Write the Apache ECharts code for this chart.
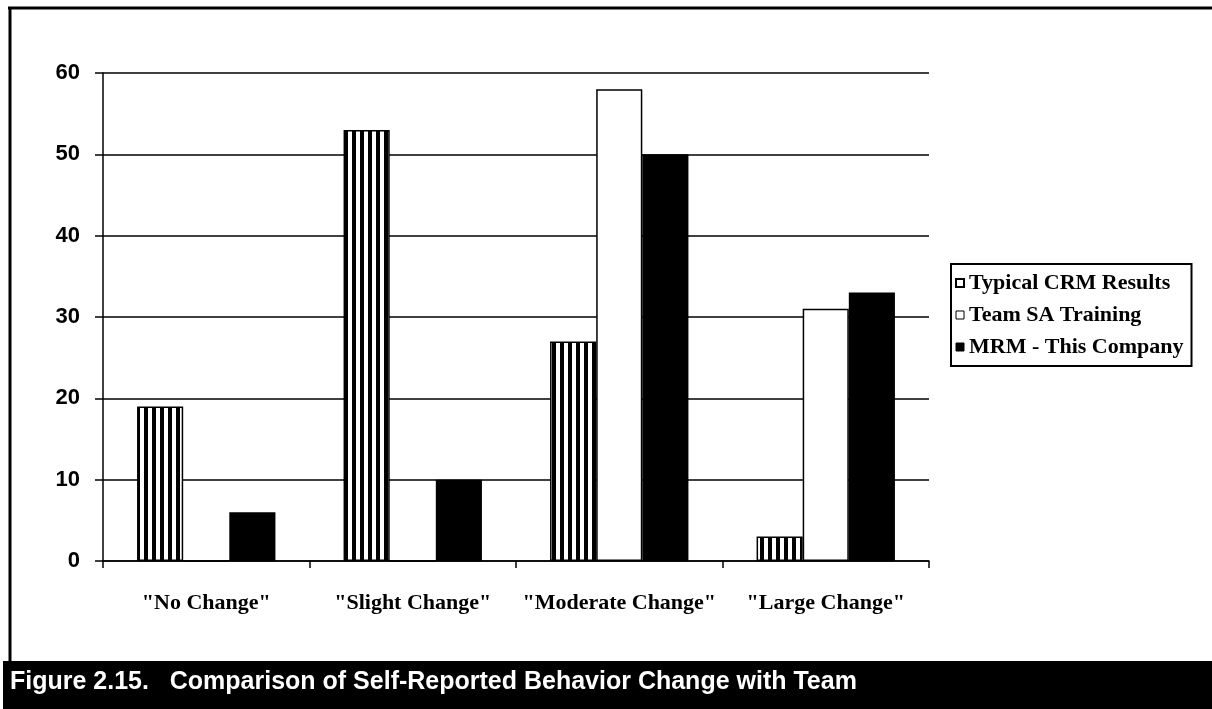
<!DOCTYPE html>
<html>
<head>
<meta charset="utf-8">
<title>Figure 2.15</title>
<script src="https://cdn.jsdelivr.net/npm/echarts@6/dist/echarts.min.js"></script>
<style>
  html, body { margin: 0; padding: 0; background: #fff; }
  #chart { width: 1212px; height: 709px; }
</style>
</head>
<body>
<div id="chart"></div>
<script>
// Response categories on the x axis
const categories = ['"No Change"', '"Slight Change"', '"Moderate Change"', '"Large Change"'];

// Percent of respondents per category, one array per program
const typicalCRM = [19, 53, 27, 3];
const teamSA = [0, 0, 58, 31];
const mrmCompany = [6, 10, 50, 33];

const seriesNames = ['Typical CRM Results', 'Team SA Training', 'MRM - This Company'];

// Value axis ticks
const yMin = 0, yMax = 60, yStep = 10;

const caption = 'Figure 2.15.   Comparison of Self-Reported Behavior Change with Team';

// Vertical stripe fill for the "typical" bars
function stripePattern() {
  const c = document.createElement('canvas');
  c.width = 8; c.height = 8;
  const ctx = c.getContext('2d');
  ctx.fillStyle = '#fff';
  ctx.fillRect(0, 0, 8, 8);
  ctx.fillStyle = '#000';
  ctx.fillRect(0, 0, 4, 8);
  return c;
}

const serif = '"Liberation Serif", "Times New Roman", serif';
const sans = '"Liberation Sans", Arial, sans-serif';

const chart = echarts.init(document.getElementById('chart'), null, { renderer: 'canvas' });

const barBase = { type: 'bar', barGap: '0%', barCategoryGap: '33%', animation: false };

chart.setOption({
  backgroundColor: '#fff',
  animation: false,
  grid: { left: 103, right: 283, top: 73, bottom: 148 },
  legend: {
    orient: 'vertical',
    left: 951,
    top: 264,
    padding: [8, 8, 8, 4],
    itemGap: 10,
    itemWidth: 8,
    itemHeight: 8,
    icon: 'rect',
    borderColor: '#000',
    borderWidth: 2,
    textStyle: { fontFamily: serif, fontWeight: 'bold', fontSize: 22, color: '#000' },
    data: [
      { name: seriesNames[0], itemStyle: { color: '#fff', borderColor: '#000', borderWidth: 2 } },
      { name: seriesNames[1], itemStyle: { color: '#fff', borderColor: '#000', borderWidth: 1 } },
      { name: seriesNames[2], itemStyle: { color: '#000', borderColor: '#000', borderWidth: 1 } }
    ]
  },
  xAxis: {
    type: 'category',
    data: categories,
    axisLine: { show: true, lineStyle: { color: '#000', width: 1.5 } },
    axisTick: { show: true, interval: 0, length: 7, lineStyle: { color: '#000', width: 1.5 } },
    axisLabel: { interval: 0, margin: 31, fontFamily: serif, fontWeight: 'bold', fontSize: 22, color: '#000' },
    splitLine: { show: false }
  },
  yAxis: {
    type: 'value',
    min: yMin,
    max: yMax,
    interval: yStep,
    axisLine: { show: true, lineStyle: { color: '#000', width: 1.5 } },
    axisTick: { show: true, length: 8, lineStyle: { color: '#000', width: 1.5 } },
    axisLabel: { margin: 23, fontFamily: sans, fontWeight: 'bold', fontSize: 22, color: '#000' },
    splitLine: { show: true, lineStyle: { color: '#000', width: 1.5 } }
  },
  series: [
    Object.assign({}, barBase, {
      name: seriesNames[0],
      data: typicalCRM,
      itemStyle: { color: { image: stripePattern(), repeat: 'repeat' }, borderColor: '#000', borderWidth: 1.5 }
    }),
    Object.assign({}, barBase, {
      name: seriesNames[1],
      data: teamSA,
      itemStyle: { color: '#fff', borderColor: '#000', borderWidth: 1.5 }
    }),
    Object.assign({}, barBase, {
      name: seriesNames[2],
      data: mrmCompany,
      itemStyle: { color: '#000', borderColor: '#000', borderWidth: 1.5 }
    })
  ],
  graphic: [
    // outer frame: top and left edges
    { type: 'line', shape: { x1: 8, y1: 8, x2: 1212, y2: 8 }, style: { stroke: '#000', lineWidth: 3 }, silent: true },
    { type: 'line', shape: { x1: 10, y1: 7, x2: 10, y2: 662 }, style: { stroke: '#000', lineWidth: 3 }, silent: true },
    // caption band
    { type: 'rect', shape: { x: 3, y: 661, width: 1209, height: 48 }, style: { fill: '#000' }, silent: true },
    {
      type: 'text', left: 10, top: 670, silent: true,
      style: { text: caption, fill: '#fff', font: 'bold 25px ' + sans }
    }
  ]
});
</script>
</body>
</html>
